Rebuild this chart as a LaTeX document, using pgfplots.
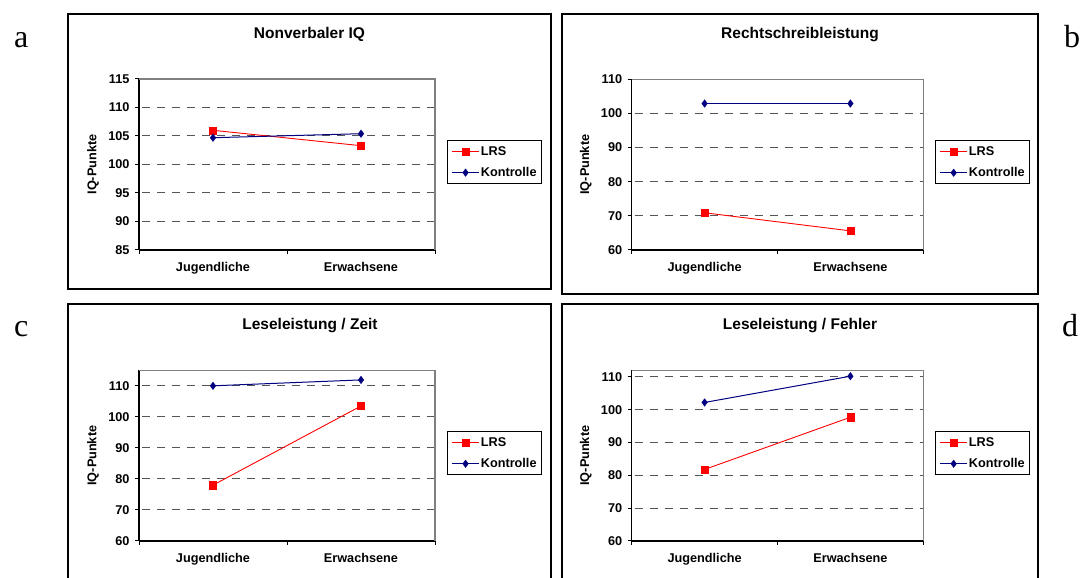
\documentclass[border=0pt]{standalone}
\usepackage{fontspec}
\setmainfont{Liberation Sans}
\newfontfamily\letterfont{Liberation Serif}
\usepackage{pgfplots}
\pgfplotsset{compat=1.18}
\definecolor{lrs}{RGB}{255,0,0}
\definecolor{kon}{RGB}{0,0,128}
\definecolor{gridc}{RGB}{85,85,85}
\definecolor{borderc}{RGB}{128,128,128}
\newcommand{\smallf}{\fontsize{12.7}{14}\selectfont\bfseries}
\newcommand{\titlef}{\fontsize{15.5}{18}\selectfont\bfseries}
\pgfplotsset{
 panel/.style={
  scale only axis,
  axis lines*=left,
  axis line style={black, line width=1.2pt},
  tick align=outside,
  major tick length=4pt,
  tick style={black, line width=1pt},
  xmin=0.5, xmax=2.5,
  xtick={0.5,1.5,2.5},
  xticklabels={},
  extra x ticks={1,2},
  extra x tick labels={Jugendliche,Erwachsene},
  extra x tick style={major tick length=0pt, grid=none, tick style={draw=none}},
  xticklabel style={yshift=-9pt},
  ymajorgrids,
  grid style={gridc, dash pattern=on 8pt off 7pt, dash phase=-3pt, line width=1pt},
  /pgf/number format/assume math mode=true,
  ticklabel style={font=\smallf},
  yticklabel style={xshift=-2pt},
  ylabel={IQ-Punkte},
  every axis y label/.style={at={(axis description cs:0,0.5)}, xshift=-46pt, rotate=90, anchor=center, font=\smallf},
  legend style={draw=black, line width=0.8pt, at={(1.04,0.514)}, anchor=west, font=\smallf,
    inner xsep=4pt, inner ysep=3.6pt, row sep=6pt, column sep=0pt,
    nodes={inner sep=1pt, text height=10pt, text depth=3pt}},
  legend cell align=left,
  legend image code/.code={\draw[mark repeat=2,mark phase=2,##1] plot coordinates {(0pt,0pt) (13.8pt,0pt) (27.6pt,0pt)};},
  after end axis/.code={\draw[borderc, line width=1.2pt] (rel axis cs:0,1) -- (rel axis cs:1,1) -- (rel axis cs:1,0);},
 },
 lrsp/.style={lrs, line width=0.9pt, mark=square*, mark size=3.6pt, mark options={solid, fill=lrs, draw=lrs, line width=0.3pt}},
 konp/.style={kon, line width=1pt, mark=diamond*, mark size=3.8pt, mark options={solid, fill=kon, draw=kon, line width=0.3pt}},
}
\begin{document}
\begin{tikzpicture}
\path[use as bounding box] (0,0) rectangle (1085pt,578pt);
\fill[white] (0,0) rectangle (1085pt,578pt);
% frames
\draw[black, line width=1.2pt] (68pt,564pt) rectangle (551pt,289pt);
\draw[black, line width=1.2pt] (562pt,564pt) rectangle (1038pt,284pt);
\draw[black, line width=1.2pt] (68pt,0pt) -- (68pt,274pt) -- (551pt,274pt) -- (551pt,0pt);
\draw[black, line width=1.2pt] (562pt,0pt) -- (562pt,274pt) -- (1038pt,274pt) -- (1038pt,0pt);
% letters
\node[anchor=base west, inner sep=0pt, font=\letterfont\fontsize{32}{36}\selectfont] at (14pt,530pt) {a};
\node[anchor=base west, inner sep=0pt, font=\letterfont\fontsize{32}{36}\selectfont] at (1064pt,530pt) {b};
\node[anchor=base west, inner sep=0pt, font=\letterfont\fontsize{32}{36}\selectfont] at (14pt,241pt) {c};
\node[anchor=base west, inner sep=0pt, font=\letterfont\fontsize{32}{36}\selectfont] at (1062pt,241pt) {d};
% titles
\node[font=\titlef] at (309.5pt,544pt) {Nonverbaler IQ};
\node[font=\titlef] at (800pt,543pt) {Rechtschreibleistung};
\node[font=\titlef] at (310pt,252.3pt) {Leseleistung / Zeit};
\node[font=\titlef] at (800pt,252.3pt) {Leseleistung / Fehler};

\begin{axis}[panel, at={(139pt,328pt)}, anchor=south west, width=296pt, height=171pt,
  ymin=85, ymax=115, ytick={85,90,...,115}]
\addplot[lrsp] coordinates {(1,106.0) (2,103.3)};
\addplot[konp] coordinates {(1,104.7) (2,105.4)};
\legend{LRS,Kontrolle}
\end{axis}

\begin{axis}[panel, at={(631.7pt,328pt)}, anchor=south west, width=291.6pt, height=170.7pt,
  ymin=60, ymax=110, ytick={60,70,...,110}]
\addplot[lrsp] coordinates {(1,70.9) (2,65.6)};
\addplot[konp] coordinates {(1,102.9) (2,102.9)};
\legend{LRS,Kontrolle}
\end{axis}

\begin{axis}[panel, at={(139pt,37pt)}, anchor=south west, width=296pt, height=170.7pt,
  ymin=60, ymax=115, ytick={60,70,...,110}]
\addplot[lrsp] coordinates {(1,78.0) (2,103.5)};
\addplot[konp] coordinates {(1,110.0) (2,111.9)};
\legend{LRS,Kontrolle}
\end{axis}

\begin{axis}[panel, at={(631.7pt,37pt)}, anchor=south west, width=291.6pt, height=170.7pt,
  ymin=60, ymax=112, ytick={60,70,...,110}]
\addplot[lrsp] coordinates {(1,81.8) (2,97.7)};
\addplot[konp] coordinates {(1,102.2) (2,110.2)};
\legend{LRS,Kontrolle}
\end{axis}
\end{tikzpicture}
\end{document}
